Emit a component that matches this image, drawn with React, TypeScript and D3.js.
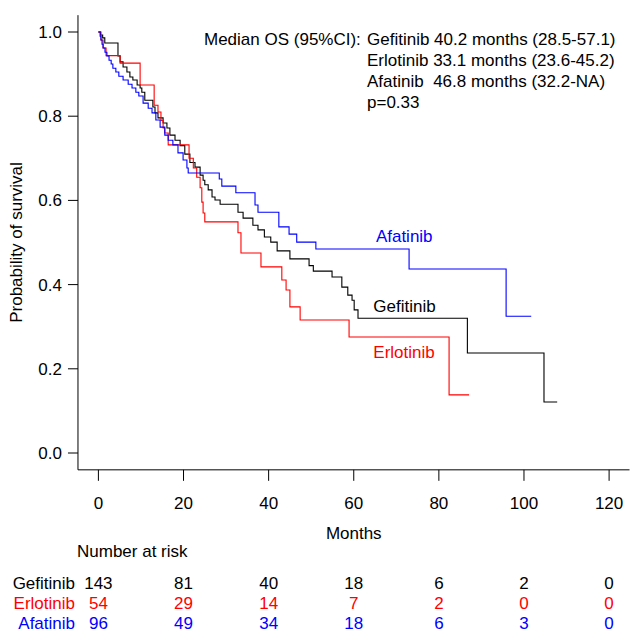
import React from 'react';
import * as d3 from 'd3';

// Kaplan-Meier steps: time (months) where the curve drops, survival after the drop
const gefTimes = [0, 0.5, 1.0, 1.5, 4.6, 5.1, 5.8, 6.7, 7.4, 8.1, 9.1, 9.8, 10.2, 10.9, 12.8, 13.3, 14.0, 15.2, 16.1, 16.8, 18.0, 19.2, 20.3, 21.5, 22.7, 23.9, 24.6, 25.0, 25.8, 26.7, 27.4, 28.6, 32.8, 34.0, 36.3, 37.5, 39.0, 40.5, 42.0, 45.0, 49.5, 50.5, 54.9, 57.2, 58.6, 59.6, 60.1, 61.0, 86.7, 104.7, 107.8];
const gefSurv = [1, 0.993, 0.986, 0.974, 0.943, 0.929, 0.917, 0.905, 0.893, 0.886, 0.874, 0.867, 0.857, 0.838, 0.822, 0.808, 0.796, 0.784, 0.772, 0.755, 0.743, 0.73, 0.71, 0.69, 0.679, 0.66, 0.648, 0.637, 0.625, 0.608, 0.601, 0.591, 0.572, 0.558, 0.541, 0.53, 0.513, 0.501, 0.48, 0.461, 0.445, 0.432, 0.418, 0.394, 0.375, 0.363, 0.34, 0.32, 0.2375, 0.121, 0.121];

const erlTimes = [0, 0.6, 1.1, 1.8, 5.1, 9.8, 13.1, 14.0, 14.7, 15.2, 15.6, 16.4, 21.3, 22.3, 23.1, 23.9, 24.3, 24.6, 25.0, 32.8, 33.5, 38.2, 43.1, 44.1, 45.0, 47.4, 58.9, 82.4, 87.1];
const erlSurv = [1, 0.981, 0.962, 0.944, 0.926, 0.874, 0.826, 0.81, 0.79, 0.772, 0.76, 0.732, 0.70, 0.677, 0.655, 0.63, 0.596, 0.57, 0.549, 0.523, 0.475, 0.442, 0.411, 0.387, 0.347, 0.316, 0.2755, 0.138, 0.138];

const afaTimes = [0, 0.4, 0.6, 0.85, 1.1, 1.55, 2.0, 2.5, 3.0, 3.4, 4.1, 4.8, 5.8, 7.0, 7.9, 8.8, 9.5, 10.5, 11.7, 12.6, 13.5, 14.5, 15.6, 16.4, 17.5, 18.7, 19.9, 20.8, 21.1, 28.4, 29.0, 32.3, 36.8, 37.5, 42.4, 44.8, 46.6, 51.1, 73.0, 95.8, 101.7];
const afaSurv = [1, 0.99, 0.981, 0.971, 0.962, 0.952, 0.943, 0.933, 0.924, 0.914, 0.905, 0.895, 0.886, 0.876, 0.867, 0.857, 0.848, 0.831, 0.819, 0.808, 0.791, 0.774, 0.755, 0.743, 0.732, 0.713, 0.696, 0.677, 0.665, 0.651, 0.634, 0.618, 0.589, 0.572, 0.537, 0.52, 0.501, 0.4846, 0.437, 0.325, 0.325];

const xTicks = [0, 20, 40, 60, 80, 100, 120];
const yTicks = [0, 0.2, 0.4, 0.6, 0.8, 1.0];

const drugs = ['Gefitinib', 'Erlotinib', 'Afatinib'];
const gefRisk = [143, 81, 40, 18, 6, 2, 0];
const erlRisk = [54, 29, 14, 7, 2, 0, 0];
const afaRisk = [96, 49, 34, 18, 6, 3, 0];

const medianLines = [
  'Gefitinib 40.2 months (28.5-57.1)',
  'Erlotinib 33.1 months (23.6-45.2)',
  'Afatinib  46.8 months (32.2-NA)',
  'p=0.33',
];

const colors = ['#000000', '#ff0000', '#0000ff'];
const font = '"Liberation Sans", Arial, sans-serif';
const fs = 17;

export default function App() {
  const x = d3.scaleLinear().domain([0, 120]).range([98.4, 609.1]);
  const y = d3.scaleLinear().domain([0, 1]).range([453, 32]);
  const line = d3.line<[number, number]>()
    .x(d => x(d[0]))
    .y(d => y(d[1]))
    .curve(d3.curveStepAfter);

  const series = [
    { times: gefTimes, surv: gefSurv, risk: gefRisk },
    { times: erlTimes, surv: erlSurv, risk: erlRisk },
    { times: afaTimes, surv: afaSurv, risk: afaRisk },
  ];

  const x0 = x(-4.8), x1 = x(124.8);
  const yTop = y(1.04), yBot = y(-0.04);

  // curve labels: [drug index, x position in months, y baseline in survival units]
  const curveLabels: [number, number, number][] = [
    [2, 65.2, 0.502],
    [0, 64.6, 0.335],
    [1, 64.6, 0.226],
  ];

  return (
    <svg width={630} height={634} style={{ position: 'absolute', left: 0, top: 0 }}
      fontFamily={font} fontSize={fs}>
      <rect width={630} height={634} fill="white" />
      {/* L-shaped box */}
      <path d={`M${x0},${yTop}V${yBot}H${x1}`} fill="none" stroke="#000" strokeWidth={1} />

      {yTicks.map(t => (
        <g key={'y' + t}>
          <line x1={x0 - 10} x2={x0} y1={y(t)} y2={y(t)} stroke="#000" />
          <text x={62} y={y(t)} dy="0.35em" textAnchor="end">{t.toFixed(1)}</text>
        </g>
      ))}
      <text transform={`translate(22,${y(0.5)}) rotate(-90)`} textAnchor="middle">Probability of survival</text>

      {xTicks.map(t => (
        <g key={'x' + t}>
          <line x1={x(t)} x2={x(t)} y1={yBot} y2={yBot + 11} stroke="#000" />
          <text x={x(t)} y={509} textAnchor="middle">{t}</text>
        </g>
      ))}
      <text x={x(60)} y={539} textAnchor="middle">Months</text>

      {series.map((s, i) => (
        <path key={'c' + i}
          d={line(s.times.map((t, j) => [t, s.surv[j]] as [number, number])) || ''}
          fill="none" stroke={colors[i]} strokeWidth={1.1} />
      ))}

      {curveLabels.map(([i, m, v]) => (
        <text key={'l' + i} x={x(m)} y={y(v)} fill={colors[i]}>{drugs[i]}</text>
      ))}

      <text x={204} y={45}>Median OS (95%CI):</text>
      {medianLines.map((t, i) => (
        <text key={'m' + i} x={367} y={45 + i * 21} style={{ whiteSpace: 'pre' }}>{t}</text>
      ))}

      <text x={77} y={557}>Number at risk</text>
      {series.map((s, i) => (
        <g key={'r' + i} fill={colors[i]}>
          <text x={75} y={589 + i * 20} textAnchor="end">{drugs[i]}</text>
          {s.risk.map((n, j) => (
            <text key={j} x={x(xTicks[j])} y={589 + i * 20} textAnchor="middle">{n}</text>
          ))}
        </g>
      ))}
    </svg>
  );
}
